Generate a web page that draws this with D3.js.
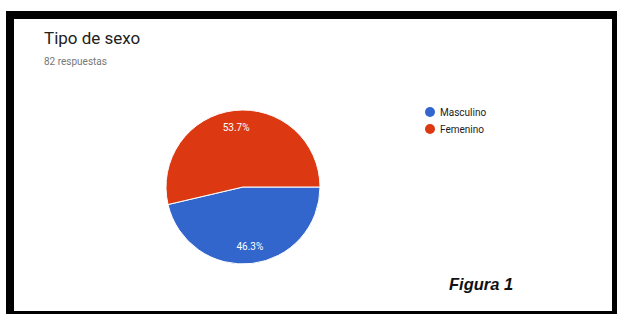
<!DOCTYPE html>
<html><head><meta charset="utf-8">
<script src="https://cdn.jsdelivr.net/npm/d3@7"></script>
<style>html,body{margin:0;padding:0;background:#fff;}svg{display:block;}</style>
</head><body>
<svg id="c" width="617" height="314"></svg>
<script>
const categories = ["Masculino", "Femenino"];
const counts = [38, 44];
const colors = ["#3366cc", "#dc3912"];
const title = "Tipo de sexo";
const subtitle = "82 respuestas";
const caption = "Figura 1";

const svg = d3.select("#c");
// frame
svg.append("rect").attr("x", 6).attr("y", 11).attr("width", 611).attr("height", 303).attr("fill", "#000");
svg.append("rect").attr("x", 14).attr("y", 19).attr("width", 598).attr("height", 292).attr("fill", "#fff");

svg.append("text").attr("x", 44).attr("y", 44).attr("font-family", "Roboto, Arial, sans-serif")
  .attr("font-size", 17).attr("fill", "#212121").text(title);
svg.append("text").attr("x", 44).attr("y", 65).attr("font-family", "Roboto, Arial, sans-serif")
  .attr("font-size", 10).attr("fill", "#777").text(subtitle);

const cx = 243, cy = 187, r = 77;
const total = d3.sum(counts);
const pie = d3.pie().sort(null).startAngle(Math.PI / 2).endAngle(Math.PI / 2 + 2 * Math.PI);
const arcs = pie(counts);
const arc = d3.arc().innerRadius(0).outerRadius(r);
const g = svg.append("g").attr("transform", `translate(${cx},${cy})`);
g.selectAll("path").data(arcs).enter().append("path")
  .attr("d", arc).attr("fill", (d, i) => colors[i]).attr("stroke", "#fff").attr("stroke-width", 1);
const labelArc = d3.arc().innerRadius(r * 0.78).outerRadius(r * 0.78);
g.selectAll("text").data(arcs).enter().append("text")
  .attr("transform", d => `translate(${labelArc.centroid(d)})`)
  .attr("text-anchor", "middle").attr("dy", "0.35em")
  .attr("font-family", "Roboto, Arial, sans-serif").attr("font-size", 10).attr("fill", "#fff")
  .text(d => (d.value / total * 100).toFixed(1) + "%");

const lg = svg.append("g").attr("transform", "translate(430,112)");
const yScale = d3.scalePoint().domain(categories).range([0, 17]);
categories.forEach((c, i) => {
  lg.append("circle").attr("cx", 0).attr("cy", yScale(c)).attr("r", 5).attr("fill", colors[i]);
  lg.append("text").attr("x", 10).attr("y", yScale(c)).attr("dy", "0.35em")
    .attr("font-family", "Roboto, Arial, sans-serif").attr("font-size", 10).attr("fill", "#222").text(c);
});

svg.append("text").attr("x", 449).attr("y", 290).attr("font-family", "'Liberation Sans', Arial, sans-serif")
  .attr("font-size", 16.5).attr("font-weight", "bold").attr("font-style", "italic").attr("fill", "#111").text(caption);
</script>
</body></html>
